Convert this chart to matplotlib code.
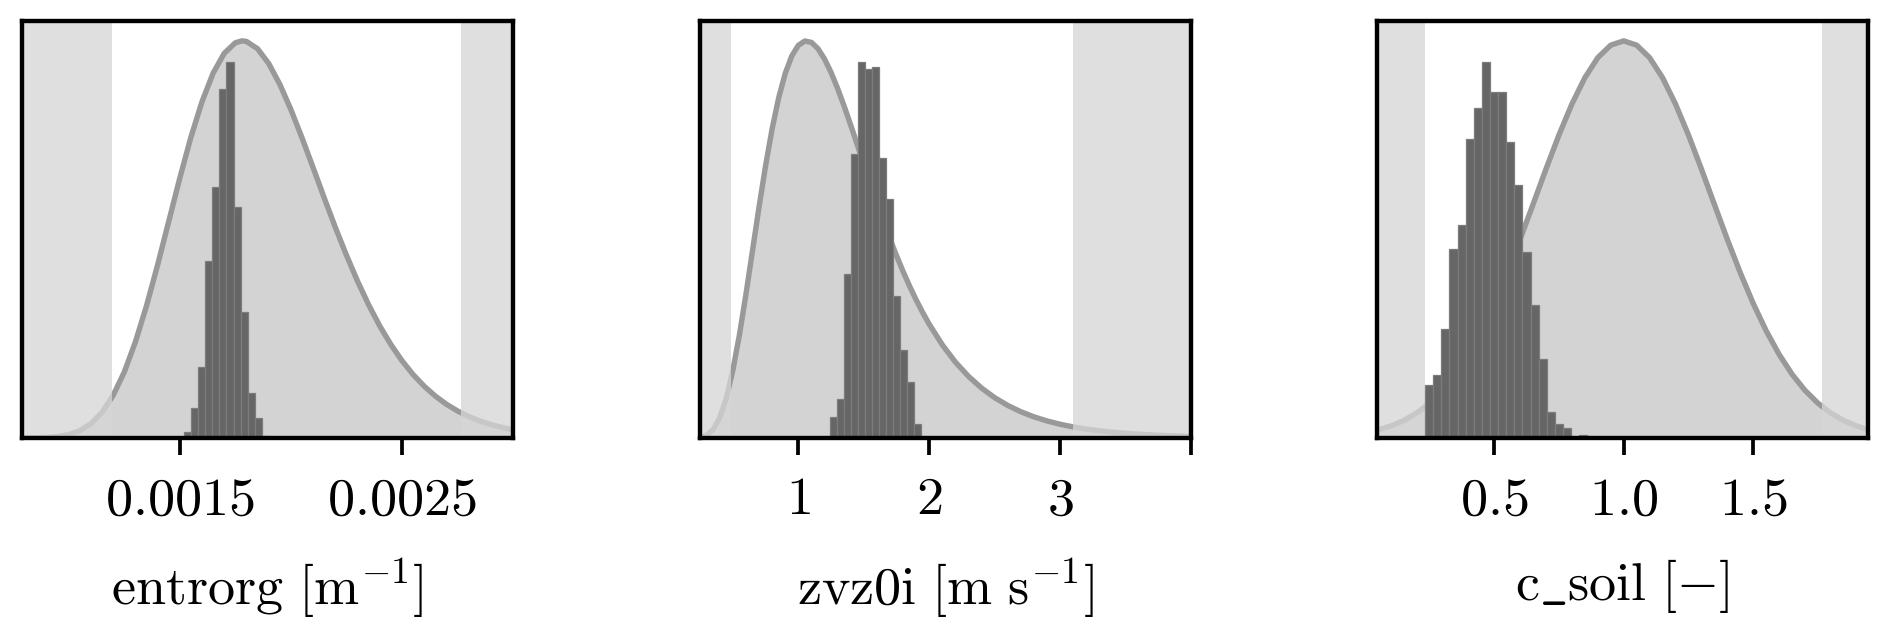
import numpy as np
import matplotlib
matplotlib.use('Agg')
import matplotlib.pyplot as plt

plt.rcParams['mathtext.fontset'] = 'cm'
plt.rcParams['font.family'] = 'serif'

# prior curves (peak scaled to 1)
entrorg_x = [0.78, 0.80, 0.85, 0.90, 0.95, 1.00, 1.05, 1.10, 1.15, 1.20, 1.25, 1.30, 1.35,
             1.40, 1.45, 1.50, 1.55, 1.60, 1.65, 1.70, 1.75, 1.78, 1.80, 1.85, 1.90, 1.95,
             2.00, 2.05, 2.10, 2.15, 2.20, 2.25, 2.30, 2.35, 2.40, 2.45, 2.50, 2.55, 2.60,
             2.65, 2.70, 2.75, 2.80, 2.85, 2.90, 2.95, 3.00, 3.05]  # x 1e-3
entrorg_prior = [0.0000, 0.0001, 0.0004, 0.0013, 0.0035, 0.0085, 0.0183, 0.0359, 0.0644,
                 0.1070, 0.1656, 0.2414, 0.3323, 0.4353, 0.5448, 0.6544, 0.7575, 0.8471,
                 0.9189, 0.9688, 0.9953, 1.0000, 0.9985, 0.9801, 0.9428, 0.8904, 0.8266,
                 0.7553, 0.6801, 0.6039, 0.5297, 0.4596, 0.3941, 0.3346, 0.2814, 0.2347,
                 0.1941, 0.1593, 0.1299, 0.1052, 0.0846, 0.0678, 0.0539, 0.0427, 0.0337,
                 0.0264, 0.0207, 0.0161]

zvz0i_x = [0.17, 0.20, 0.25, 0.30, 0.35, 0.40, 0.45, 0.50, 0.55, 0.60, 0.65, 0.70, 0.75,
           0.80, 0.85, 0.90, 0.95, 1.00, 1.05, 1.10, 1.15, 1.20, 1.25, 1.30, 1.35, 1.40,
           1.45, 1.50, 1.55, 1.60, 1.65, 1.70, 1.75, 1.80, 1.85, 1.90, 1.95, 2.00, 2.10,
           2.20, 2.30, 2.40, 2.50, 2.60, 2.70, 2.80, 2.90, 3.00, 3.10, 3.20, 3.30, 3.40,
           3.50, 3.60, 3.70, 3.80, 3.90, 4.00]
zvz0i_prior = [0.0000, 0.0002, 0.0015, 0.0068, 0.0213, 0.0508, 0.0999, 0.1698, 0.2584,
               0.3610, 0.4708, 0.5810, 0.6851, 0.7782, 0.8564, 0.9179, 0.9619, 0.9887,
               0.9996, 0.9962, 0.9804, 0.9545, 0.9204, 0.8801, 0.8354, 0.7878, 0.7386,
               0.6890, 0.6397, 0.5917, 0.5452, 0.5008, 0.4587, 0.4190, 0.3819, 0.3473,
               0.3155, 0.2860, 0.2341, 0.1906, 0.1548, 0.1253, 0.1012, 0.0817, 0.0658,
               0.0530, 0.0427, 0.0344, 0.0277, 0.0223, 0.0180, 0.0145, 0.0117, 0.0095,
               0.0077, 0.0062, 0.0051, 0.0041]

csoil_x = [0.00, 0.05, 0.10, 0.15, 0.20, 0.25, 0.30, 0.35, 0.40, 0.45, 0.50, 0.55, 0.60,
           0.65, 0.70, 0.75, 0.80, 0.85, 0.90, 0.95, 1.00, 1.05, 1.10, 1.15, 1.20, 1.25,
           1.30, 1.35, 1.40, 1.45, 1.50, 1.55, 1.60, 1.65, 1.70, 1.75, 1.80, 1.85, 1.90,
           1.95, 2.00]
csoil_prior = [0.0132, 0.0202, 0.0301, 0.0439, 0.0628, 0.0878, 0.1201, 0.1608, 0.2108,
               0.2703, 0.3392, 0.4165, 0.5006, 0.5887, 0.6776, 0.7632, 0.8411, 0.9073,
               0.9577, 0.9892, 1.0000, 0.9892, 0.9577, 0.9073, 0.8411, 0.7632, 0.6776,
               0.5887, 0.5006, 0.4165, 0.3392, 0.2703, 0.2108, 0.1608, 0.1201, 0.0878,
               0.0628, 0.0439, 0.0301, 0.0202, 0.0132]

# posterior histograms (bin edges, bar heights)
entrorg_edges = [1.517, 1.549, 1.581, 1.613, 1.646, 1.678, 1.710, 1.742, 1.774, 1.806,
                 1.839, 1.871, 1.903]  # x 1e-3
entrorg_hist = [0.015, 0.076, 0.179, 0.445, 0.632, 0.878, 0.947, 0.581, 0.318, 0.114,
                0.050, 0.004]

zvz0i_edges = [1.240, 1.294, 1.347, 1.401, 1.454, 1.508, 1.561, 1.615, 1.668, 1.722,
               1.775, 1.829, 1.882, 1.936]
zvz0i_hist = [0.054, 0.097, 0.414, 0.716, 0.947, 0.929, 0.934, 0.705, 0.601, 0.358,
              0.221, 0.141, 0.036]

csoil_edges = [0.233, 0.264, 0.296, 0.327, 0.358, 0.390, 0.421, 0.452, 0.483, 0.515,
               0.546, 0.577, 0.609, 0.640, 0.671, 0.703, 0.734, 0.765, 0.796, 0.828,
               0.859]
csoil_hist = [0.133, 0.158, 0.275, 0.477, 0.536, 0.754, 0.830, 0.947, 0.872, 0.872,
              0.746, 0.637, 0.469, 0.334, 0.200, 0.066, 0.034, 0.024, 0.0, 0.008]

# prior bounds (outside shaded)
lower_bounds = [0.001195, 0.487, 0.231]
upper_bounds = [0.002767, 3.098, 1.765]
xlims = [(0.00079, 0.003), (0.25, 4.0), (0.047, 1.945)]
xticks = [[0.0015, 0.0025], [1, 2, 3, 4], [0.5, 1.0, 1.5]]
xticklabels = [['$0.0015$', '$0.0025$'], ['$1$', '$2$', '$3$', ''],
               ['$0.5$', '$1.0$', '$1.5$']]
xlabels = [r'$\mathrm{entrorg}\ [\mathrm{m}^{-1}]$',
           r'$\mathrm{zvz0i}\ [\mathrm{m\ s}^{-1}]$',
           r'$\mathrm{c\_soil}\ [-]$']

curves = [(np.array(entrorg_x) * 1e-3, entrorg_prior),
          (np.array(zvz0i_x), zvz0i_prior),
          (np.array(csoil_x), csoil_prior)]
hists = [(np.array(entrorg_edges) * 1e-3, entrorg_hist),
         (np.array(zvz0i_edges), zvz0i_hist),
         (np.array(csoil_edges), csoil_hist)]

fig = plt.figure(figsize=(1892 / 300, 631 / 300), dpi=300)
lefts = [0.0116, 0.3700, 0.7278]

for i in range(3):
    ax = fig.add_axes([lefts[i], 0.3059, 0.2597, 0.6608])
    x, y = curves[i]
    ax.fill_between(x, 0, y, color='#d3d3d3', lw=0, zorder=1, clip_on=(i != 1))
    ax.plot(x, y, color='#999999', lw=1.3, zorder=2)
    lo, hi = xlims[i]
    ax.axvspan(lo - 1, lower_bounds[i], color='#d6d6d6', alpha=0.77, lw=0, zorder=2.5)
    ax.axvspan(upper_bounds[i], hi + 1, color='#d6d6d6', alpha=0.77, lw=0, zorder=2.5)
    edges, h = hists[i]
    ax.bar(edges[:-1], h, width=np.diff(edges), align='edge', color='#666666',
           edgecolor='#7c7c7c', linewidth=0.3, zorder=3)
    ax.set_xlim(lo, hi)
    ax.set_ylim(0, 1.05)
    ax.set_yticks([])
    ax.set_xticks(xticks[i])
    ax.set_xticklabels(xticklabels[i])
    ax.tick_params(axis='x', length=4, width=0.9, pad=4.5, labelsize=13)
    for s in ax.spines.values():
        s.set_linewidth(1.05)
        s.set_zorder(5)
    ax.set_xlabel(xlabels[i], fontsize=13, labelpad=7.5)

fig.savefig('out.png', dpi=300)
